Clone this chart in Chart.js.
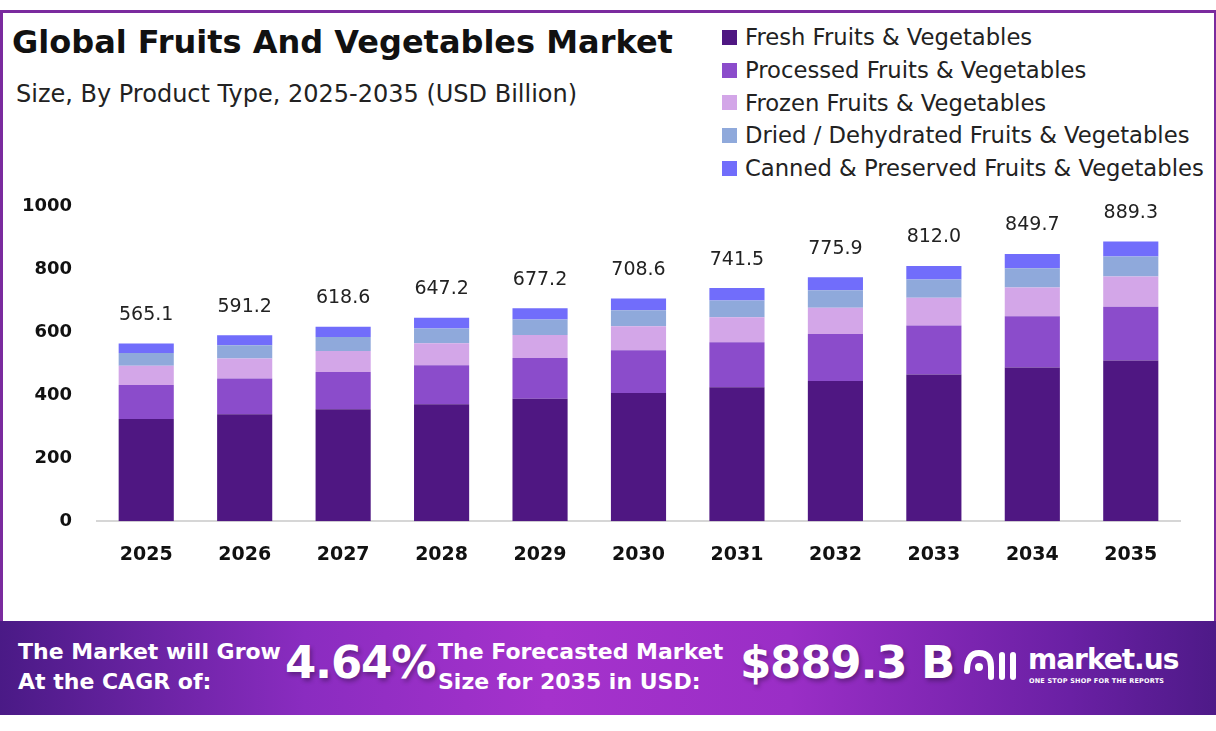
<!DOCTYPE html>
<html>
<head>
<meta charset="utf-8">
<script src="https://cdn.jsdelivr.net/npm/chart.js@4.4.1/dist/chart.umd.min.js"></script>
<style>
    html, body { margin: 0; padding: 0; background: #fff; }
    body { width: 1216px; height: 731px; position: relative; overflow: hidden; font-family: 'DejaVu Sans', sans-serif; }
    .frame { position: absolute; left: 0; top: 10px; width: 1211px; height: 610px; border: 3px solid #7a2a9e; border-bottom: none; box-sizing: content-box; }
    .title { position: absolute; left: 12px; top: 23px; font-size: 32px; font-weight: 700; color: #111; letter-spacing: 0; }
    .subtitle { position: absolute; left: 16px; top: 80px; font-size: 24px; color: #222; }
    .legend { position: absolute; left: 722px; top: 21px; }
    .legend div { height: 32.7px; display: flex; align-items: center; font-size: 22.7px; color: #222; white-space: nowrap; }
    .legend span { width: 15px; height: 15px; margin-right: 8px; display: inline-block; }
    #wrap { position: absolute; left: 0; top: 171px; width: 1200px; height: 420px; }
    .banner { position: absolute; left: 0; top: 621px; width: 1216px; height: 94px;
        background: linear-gradient(90deg, #4a1a86 0%, #8a2cc0 25%, #a532cc 45%, #9a2ec6 65%, #6a20a4 88%, #4e1a88 100%); color: #fff; }
    .banner .t { position: absolute; font-weight: 700; font-size: 22px; line-height: 30px; letter-spacing: 0; }
    .banner .big { position: absolute; font-weight: 700; font-size: 45px; top: 15px; letter-spacing: -1.2px; text-shadow: 2px 3px 4px rgba(0,0,0,0.3); }
    .logo { position: absolute; left: 963px; top: 24px; }
    .brand { position: absolute; left: 1028px; top: 22px; font-weight: 700; font-size: 28px; letter-spacing: -1px; }
    .tag { position: absolute; left: 1029px; top: 56px; font-size: 6.5px; font-weight: 700; letter-spacing: 0.2px; }
</style>
</head>
<body>
<div class="frame"></div>
<div class="title">Global Fruits And Vegetables Market</div>
<div class="subtitle">Size, By Product Type, 2025-2035 (USD Billion)</div>
<div class="legend" id="legend"></div>
<div id="wrap"><canvas id="marketChart"></canvas></div>

<div class="banner">
    <div class="t" style="left:18px; top:16px;">The Market will Grow<br>At the CAGR of:</div>
    <div class="big" style="left:285px;">4.64%</div>
    <div class="t" style="left:438px; top:16px;">The Forecasted Market<br>Size for 2035 in USD:</div>
    <div class="big" style="left:740px;">$889.3 B</div>
    <svg class="logo" width="56" height="40" viewBox="0 0 56 40">
        <path d="M4 26 Q4 8 16 8 Q28 8 28 22 L28 32" stroke="#fff" stroke-width="6" fill="none" stroke-linecap="round"/>
        <circle cx="16" cy="22" r="4" fill="#fff"/>
        <line x1="39" y1="10" x2="39" y2="32" stroke="#fff" stroke-width="6" stroke-linecap="round"/>
        <line x1="50" y1="10" x2="50" y2="32" stroke="#fff" stroke-width="6" stroke-linecap="round"/>
    </svg>
    <div class="brand">market.us</div>
    <div class="tag">ONE STOP SHOP FOR THE REPORTS</div>
</div>

<script>
    // ========================================
    // DATA
    // ========================================

    const years = ['2025', '2026', '2027', '2028', '2029', '2030', '2031', '2032', '2033', '2034', '2035'];

    const freshValues = [325.0, 340.0, 355.7, 372.1, 389.4, 407.4, 426.4, 446.1, 466.9, 488.6, 511.3];
    const processedValues = [108.5, 113.5, 118.8, 124.3, 130.0, 136.1, 142.4, 149.0, 155.9, 163.1, 170.7];
    const frozenValues = [61.0, 63.9, 66.8, 69.9, 73.1, 76.5, 80.1, 83.8, 87.7, 91.8, 96.0];
    const driedValues = [40.7, 42.6, 44.5, 46.6, 48.8, 51.0, 53.4, 55.9, 58.5, 61.2, 64.0];
    const cannedValues = [29.9, 31.2, 32.8, 34.3, 35.9, 37.6, 39.2, 41.1, 43.0, 45.0, 47.3];

    const totals = [565.1, 591.2, 618.6, 647.2, 677.2, 708.6, 741.5, 775.9, 812.0, 849.7, 889.3];

    const yTicks = [0, 200, 400, 600, 800, 1000];

    const seriesNames = [
        'Fresh Fruits & Vegetables',
        'Processed Fruits & Vegetables',
        'Frozen Fruits & Vegetables',
        'Dried / Dehydrated Fruits & Vegetables',
        'Canned & Preserved Fruits & Vegetables'
    ];
    const seriesColors = ['#4f1782', '#8b4ccb', '#d3a6e8', '#8fa9db', '#716dfb'];

    const FONT = "'DejaVu Sans', sans-serif";

    // ========================================
    // LEGEND (html)
    // ========================================

    const legendEl = document.getElementById('legend');
    seriesNames.forEach((name, i) => {
        const row = document.createElement('div');
        row.innerHTML = '<span style="background:' + seriesColors[i] + '"></span>' + name;
        legendEl.appendChild(row);
    });

    // ========================================
    // TOTAL LABELS PLUGIN
    // ========================================

    const totalLabels = {
        id: 'totalLabels',
        afterDatasetsDraw(chart) {
            const ctx = chart.ctx;
            const meta = chart.getDatasetMeta(chart.data.datasets.length - 1);
            ctx.save();
            ctx.font = '19px ' + FONT;
            ctx.fillStyle = '#222';
            ctx.textAlign = 'center';
            ctx.textBaseline = 'bottom';
            meta.data.forEach((bar, i) => {
                ctx.fillText(totals[i].toFixed(1), bar.x, bar.y - 19);
            });
            ctx.restore();
        }
    };

    // ========================================
    // CHART
    // ========================================

    const allValues = [freshValues, processedValues, frozenValues, driedValues, cannedValues];

    new Chart(document.getElementById('marketChart'), {
        type: 'bar',
        data: {
            labels: years,
            datasets: allValues.map((vals, i) => ({
                label: seriesNames[i],
                data: vals,
                backgroundColor: seriesColors[i],
                borderWidth: 0,
                barPercentage: 0.56,
                categoryPercentage: 1.0
            }))
        },
        options: {
            responsive: true,
            maintainAspectRatio: false,
            animation: false,
            layout: { padding: { top: 0, left: 0, right: 20, bottom: 3 } },
            plugins: {
                legend: { display: false },
                tooltip: { enabled: false }
            },
            scales: {
                x: {
                    stacked: true,
                    grid: { display: false, drawTicks: false },
                    border: { display: true, color: '#d6d6d6', width: 2 },
                    ticks: {
                        padding: 22,
                        color: '#111',
                        font: { family: FONT, size: 19, weight: '700' }
                    }
                },
                y: {
                    stacked: true,
                    min: 0,
                    max: 1000,
                    afterBuildTicks: (axis) => { axis.ticks = yTicks.map(v => ({ value: v })); },
                    afterFit: (axis) => { axis.width = 97; },
                    grid: { display: false, drawTicks: false },
                    border: { display: false },
                    ticks: {
                        padding: 25,
                        color: '#111',
                        callback: (v) => String(v),
                        font: { family: FONT, size: 18, weight: '700' }
                    }
                }
            }
        },
        plugins: [totalLabels]
    });
</script>
</body>
</html>
